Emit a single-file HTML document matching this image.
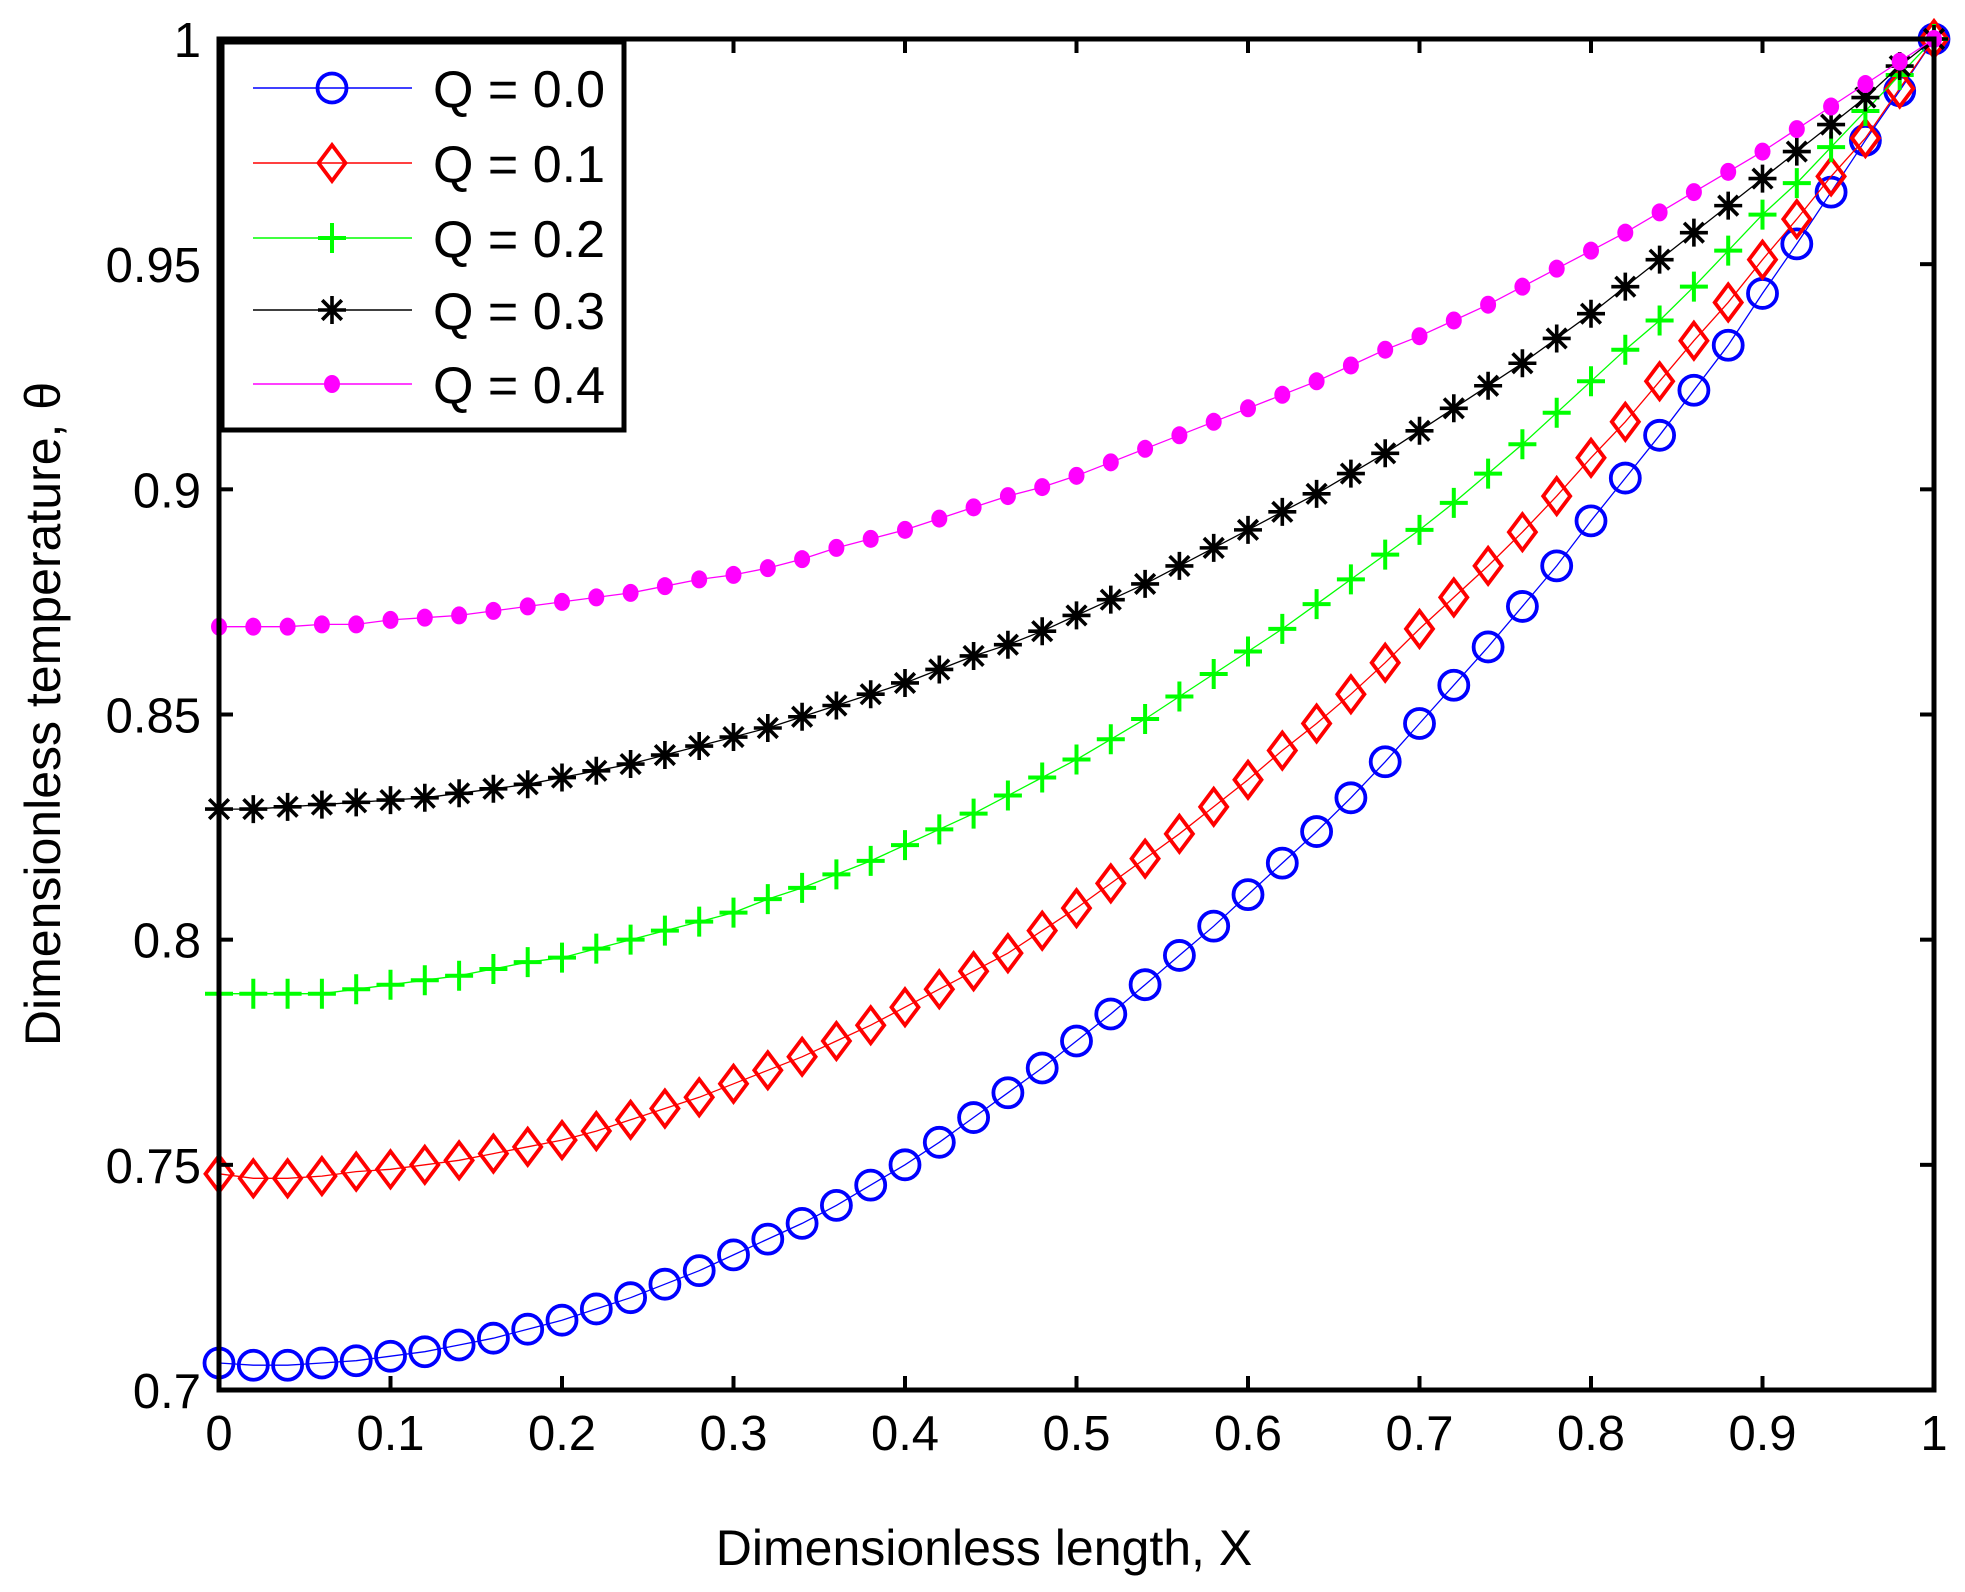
<!DOCTYPE html>
<html><head><meta charset="utf-8"><style>
html,body{margin:0;padding:0;background:#fff;}
svg{display:block;}
text{font-family:"Liberation Sans",Arial,sans-serif;fill:#000;}
</style></head><body>
<svg id="chart" width="1965" height="1592" viewBox="0 0 1965 1592" xmlns="http://www.w3.org/2000/svg">
<rect x="0" y="0" width="1965" height="1592" fill="#fff"/>
<g id="marks"></g>
<g id="axes"></g>
<g id="legend"></g>
</svg>
<script>
const xValues = [];
for (let i = 0; i <= 50; i++) xValues.push(i / 50);
const seriesNames = ["Q = 0.0", "Q = 0.1", "Q = 0.2", "Q = 0.3", "Q = 0.4"];
const q0 = [.706,.7055,.7055,.706,.7065,.7075,.7085,.710,.7115,.7135,.7155,.718,.7205,.7235,.7265,.730,.7335,.737,.741,.7455,.750,.755,.7605,.766,.7715,.7775,.7835,.790,.7965,.803,.810,.817,.824,.8315,.8395,.848,.8565,.865,.874,.883,.893,.9025,.912,.922,.932,.9435,.9545,.966,.9775,.9885,1.0];
const q1 = [.748,.747,.747,.7475,.7485,.749,.750,.751,.7525,.754,.7555,.7575,.760,.7625,.765,.768,.771,.774,.7775,.781,.785,.789,.793,.797,.802,.807,.8125,.818,.8235,.8295,.8355,.842,.848,.8545,.8615,.869,.876,.883,.8905,.8985,.907,.915,.924,.933,.9415,.951,.960,.9695,.978,.989,1.0];
const q2 = [.788,.788,.788,.788,.789,.790,.791,.792,.7935,.795,.796,.798,.800,.802,.804,.806,.809,.8115,.8145,.8175,.821,.8245,.828,.832,.836,.840,.8445,.849,.854,.859,.864,.869,.8745,.880,.8855,.891,.897,.9035,.910,.917,.924,.931,.9375,.945,.953,.961,.968,.976,.984,.992,1.0];
const q3 = [.829,.829,.8295,.830,.8305,.831,.8315,.8325,.8335,.8345,.836,.8375,.839,.841,.843,.845,.847,.8495,.852,.8545,.857,.860,.863,.8655,.8685,.872,.8755,.879,.883,.887,.891,.895,.899,.9035,.908,.913,.918,.923,.928,.9335,.939,.945,.951,.957,.963,.969,.975,.981,.987,.994,1.0];
const q4 = [.8695,.8695,.8695,.870,.870,.871,.8715,.872,.873,.874,.875,.876,.877,.8785,.880,.881,.8825,.8845,.887,.889,.891,.8935,.896,.8985,.9005,.903,.906,.909,.912,.915,.918,.921,.924,.9275,.931,.934,.9375,.941,.945,.949,.953,.957,.9615,.966,.9705,.975,.980,.985,.990,.995,1.0];
const xTicks = [0,0.1,0.2,0.3,0.4,0.5,0.6,0.7,0.8,0.9,1];
const xTickLabels = ["0","0.1","0.2","0.3","0.4","0.5","0.6","0.7","0.8","0.9","1"];
const yTicks = [0.7,0.75,0.8,0.85,0.9,0.95,1];
const yTickLabels = ["0.7","0.75","0.8","0.85","0.9","0.95","1"];

const L=219, R=1934, T=39, B=1390;
const X0=0, X1=1, Y0=0.7, Y1=1.0;
const sx = v => L + (v - X0) / (X1 - X0) * (R - L);
const sy = v => B - (v - Y0) / (Y1 - Y0) * (B - T);
const NS = "http://www.w3.org/2000/svg";
function mk(tag, attrs, parent){ const e=document.createElementNS(NS,tag); for(const k in attrs) e.setAttribute(k,attrs[k]); parent.appendChild(e); return e; }

const marks = document.getElementById('marks');
const axes = document.getElementById('axes');
const legend = document.getElementById('legend');

function drawMarker(kind, color, cx, cy, parent){
  let el;
  if (kind==='circle'){
    el = mk('circle',{cx:cx,cy:cy,r:14.5,fill:'none',stroke:color,'stroke-width':3.8},parent);
  } else if (kind==='diamond'){
    el = mk('polygon',{points:`${cx},${cy-18} ${cx+13.5},${cy} ${cx},${cy+18} ${cx-13.5},${cy}`,fill:'none',stroke:color,'stroke-width':3.8},parent);
  } else if (kind==='plus'){
    el = mk('path',{d:`M${cx-14},${cy}H${cx+14}M${cx},${cy-15}V${cy+15}`,fill:'none',stroke:color,'stroke-width':4},parent);
  } else if (kind==='star'){
    const r=14, d=r*0.7;
    el = mk('path',{d:`M${cx-r},${cy}H${cx+r}M${cx},${cy-r}V${cy+r}M${cx-d},${cy-d}L${cx+d},${cy+d}M${cx-d},${cy+d}L${cx+d},${cy-d}`,fill:'none',stroke:color,'stroke-width':3.6},parent);
  } else {
    el = mk('ellipse',{cx:cx,cy:cy,rx:8,ry:9,fill:color,stroke:'none'},parent);
  }
  return el;
}

const seriesData = [q0,q1,q2,q3,q4];
const colors = ['#0000ff','#ff0000','#00ff00','#000000','#ff00ff'];
const kinds = ['circle','diamond','plus','star','dot'];
const seriesIds = ['q-0-0','q-0-1','q-0-2','q-0-3','q-0-4'];

seriesData.forEach((vals, s) => {
  const g = mk('g',{},marks);
  
  
  const pts = vals.map((v,i)=>sx(xValues[i]).toFixed(1)+','+sy(v).toFixed(1)).join(' ');
  const line = mk('polyline',{points:pts,fill:'none',stroke:colors[s],'stroke-width':1.3},g);
  
  
  vals.forEach((v,i)=>{
    const m = drawMarker(kinds[s], colors[s], sx(xValues[i]), sy(v), g);
    
    
  });
});

const box = mk('rect',{x:L,y:T,width:R-L,height:B-T,fill:'none',stroke:'#000','stroke-width':5},axes);


const tl = 14;
xTicks.forEach((t,i)=>{
  const x = sx(t);
  mk('line',{x1:x,y1:B,x2:x,y2:B-tl,stroke:'#000','stroke-width':4},axes);
  mk('line',{x1:x,y1:T,x2:x,y2:T+tl,stroke:'#000','stroke-width':4},axes);
  const tx = mk('text',{x:x,y:B+60,'text-anchor':'middle','font-size':49},axes);
  tx.textContent = xTickLabels[i];
  
  
});
yTicks.forEach((t,i)=>{
  const y = sy(t);
  mk('line',{x1:L,y1:y,x2:L+tl,y2:y,stroke:'#000','stroke-width':4},axes);
  mk('line',{x1:R,y1:y,x2:R-tl,y2:y,stroke:'#000','stroke-width':4},axes);
  const tx = mk('text',{x:L-18,y:y+18,'text-anchor':'end','font-size':49},axes);
  tx.textContent = yTickLabels[i];
  
  
});
const xt = mk('text',{x:984,y:1565,'text-anchor':'middle','font-size':50},axes);
xt.textContent = 'Dimensionless length, X';


const yt = mk('text',{x:0,y:0,'text-anchor':'middle','font-size':50,transform:'translate(60,714) rotate(-90)'},axes);
yt.textContent = 'Dimensionless temperature, \u03B8';



const lb = mk('rect',{x:222,y:42,width:402,height:388,fill:'#fff',stroke:'#000','stroke-width':5},legend);


const legY = [88,163,238,310,384];
seriesNames.forEach((n,s)=>{
  const g = mk('g',{},legend);
  
  
  mk('line',{x1:253,y1:legY[s],x2:412,y2:legY[s],stroke:colors[s],'stroke-width':1.5},g);
  drawMarker(kinds[s], colors[s], 332, legY[s], g);
  const t = mk('text',{x:433,y:legY[s]+19,'font-size':52},g);
  t.textContent = n;
});
</script>
</body></html>
